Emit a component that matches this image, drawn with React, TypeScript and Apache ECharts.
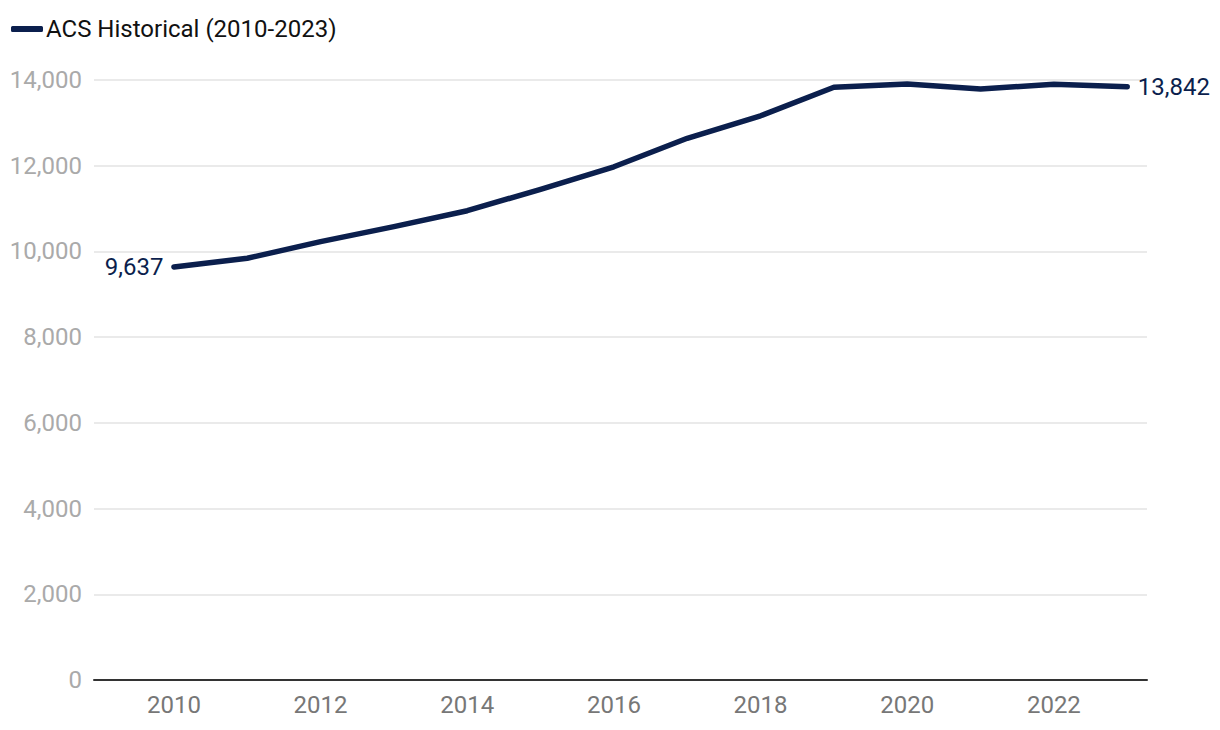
import React, { useEffect, useRef } from "react";
import * as echarts from "echarts";

const years = [2010, 2011, 2012, 2013, 2014, 2015, 2016, 2017, 2018, 2019, 2020, 2021, 2022, 2023];
const acsValues = [9637, 9840, 10230, 10580, 10950, 11450, 11975, 12640, 13165, 13830, 13905, 13790, 13900, 13842];
const xTickYears = [2010, 2012, 2014, 2016, 2018, 2020, 2022];
const seriesName = "ACS Historical (2010-2023)";

const NAVY = "#0b1f4d";

export default function App() {
  const ref = useRef<HTMLDivElement>(null);
  useEffect(() => {
    if (!ref.current) return;
    const chart = echarts.init(ref.current, null, { renderer: "svg" });
    const last = years.length - 1;
    const lineData = years.map((y, i) => [y, acsValues[i]]);
    const labelData = [0, last].map((i) => ({
      value: [years[i], acsValues[i]],
      label: {
        show: true,
        position: i === 0 ? "left" : "right",
        distance: 10,
        formatter: (p: any) => p.value[1].toLocaleString("en-US"),
        color: NAVY,
        opacity: 1,
        fontSize: 24,
        fontFamily: "Roboto",
      },
    }));
    chart.setOption({
      animation: false,
      textStyle: { fontFamily: "Roboto" },
      legend: {
        show: true,
        left: 6,
        top: 12,
        itemWidth: 32,
        itemHeight: 6,
        itemGap: 10,
        icon: "roundRect",
        itemStyle: { color: NAVY },
        textStyle: { fontSize: 24, color: "#111", fontFamily: "Roboto", padding: [0, 0, 0, -2] },
        data: [seriesName],
      },
      grid: { left: 94, right: 73, top: 80, bottom: 50, containLabel: false },
      xAxis: {
        type: "value",
        min: 2008.91,
        max: 2023.27,
        axisLine: { show: true, lineStyle: { color: "#333", width: 2 } },
        axisTick: { show: false },
        splitLine: { show: false },
        axisLabel: {
          customValues: xTickYears,
          formatter: (v: number) => String(Math.round(v)),
          color: "#777",
          fontSize: 24,
          margin: 13,
          fontFamily: "Roboto",
        },
      },
      yAxis: {
        type: "value",
        min: 0,
        max: 14000,
        interval: 2000,
        axisLine: { show: false },
        axisTick: { show: false },
        splitLine: { lineStyle: { color: "#e3e3e3", width: 1.5 } },
        axisLabel: {
          color: "#aaa",
          fontSize: 24,
          margin: 12,
          fontFamily: "Roboto",
          formatter: (v: number) => v.toLocaleString("en-US"),
        },
      },
      series: [
        {
          name: seriesName,
          type: "line",
          data: lineData,
          symbol: "none",
          color: NAVY,
          lineStyle: { color: NAVY, width: 5.5, cap: "round", join: "round" },
        },
        {
          name: "endLabels",
          type: "scatter",
          data: labelData,
          symbol: "circle",
          symbolSize: 1,
          itemStyle: { color: "rgba(0,0,0,0)", opacity: 1 },
          silent: true,
          z: 5,
        },
      ],
    });
    return () => chart.dispose();
  }, []);
  return <div ref={ref} style={{ width: 1220, height: 730, position: "absolute", left: 0, top: 0 }} />;
}
